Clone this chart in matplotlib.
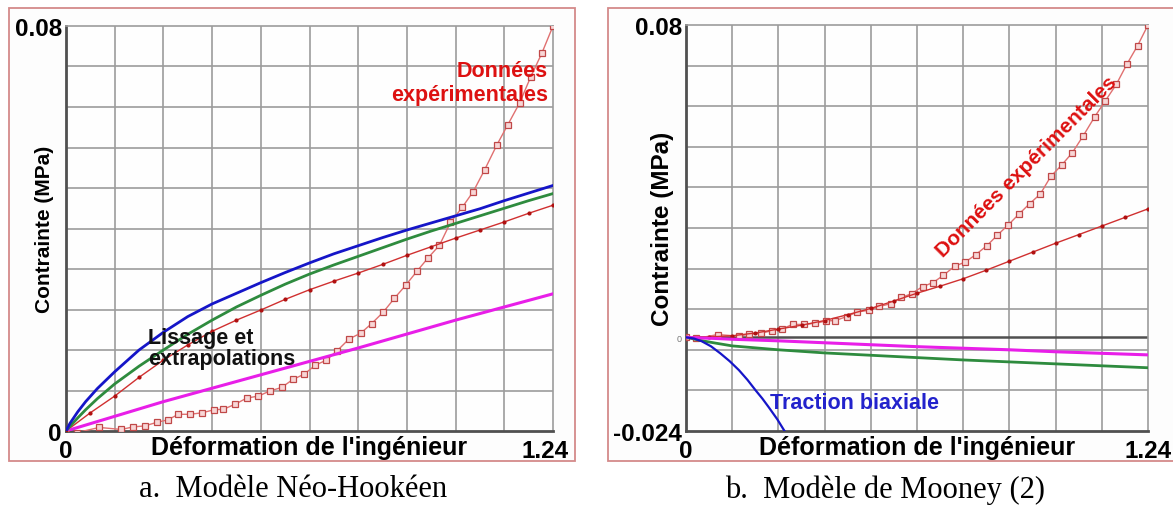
import numpy as np
import matplotlib
matplotlib.use("Agg")
import matplotlib.pyplot as plt
import matplotlib.transforms as mtransforms
from matplotlib.patches import Rectangle

plt.rcParams['font.family'] = ['Liberation Sans', 'DejaVu Sans']

# Experimental data (same test for both panels)
exp_strain = [0, 0.028, 0.085, 0.141, 0.170, 0.200, 0.231, 0.259, 0.286, 0.316,
              0.347, 0.377, 0.401, 0.431, 0.460, 0.490, 0.519, 0.549, 0.578, 0.606,
              0.635, 0.663, 0.691, 0.721, 0.750, 0.778, 0.808, 0.836, 0.865, 0.894,
              0.922, 0.951, 0.979, 1.009, 1.037, 1.066, 1.097, 1.125, 1.155, 1.183,
              1.212, 1.240]
exp_stress = [0, -0.0003, 0.0007, 0.0003, 0.0008, 0.0010, 0.0017, 0.0022, 0.0033, 0.0033,
              0.0036, 0.0042, 0.0043, 0.0053, 0.0065, 0.0069, 0.0079, 0.0086, 0.0102, 0.0112,
              0.0130, 0.0140, 0.0159, 0.0182, 0.0193, 0.0212, 0.0235, 0.0262, 0.0288, 0.0316,
              0.0342, 0.0367, 0.0412, 0.0442, 0.0473, 0.0516, 0.0565, 0.0605, 0.0648, 0.0699,
              0.0747, 0.0800]

# Fitted curves, panel a (Neo-Hookean)
fit_strain_a = [0, 0.01, 0.03, 0.05, 0.08, 0.124, 0.186, 0.248, 0.31, 0.372, 0.434, 0.496,
                0.558, 0.62, 0.682, 0.744, 0.806, 0.868, 0.93, 0.992, 1.054, 1.116, 1.178, 1.24]
blue_a = [0, 0.0015, 0.0038, 0.0058, 0.0084, 0.0117, 0.0160, 0.0195, 0.0226, 0.0251, 0.0272, 0.0293,
          0.0313, 0.0332, 0.0350, 0.0366, 0.0382, 0.0397, 0.0411, 0.0425, 0.0439, 0.0455, 0.0470, 0.0485]
green_a = [0, 0.0009, 0.0026, 0.0042, 0.0064, 0.0093, 0.0128, 0.0160, 0.0191, 0.0219, 0.0245, 0.0268,
           0.0290, 0.0310, 0.0328, 0.0345, 0.0362, 0.0379, 0.0395, 0.0410, 0.0425, 0.0440, 0.0455, 0.0469]
magenta_strain_a = [0, 0.248, 0.496, 0.744, 0.992, 1.24]
magenta_a = [0, 0.0058, 0.0111, 0.0164, 0.0219, 0.0271]

red_strain = [0, 0.062, 0.124, 0.186, 0.248, 0.31, 0.372, 0.434, 0.496, 0.558, 0.62,
              0.682, 0.744, 0.806, 0.868, 0.93, 0.992, 1.054, 1.116, 1.178, 1.24]
red_a = [0, 0.0036, 0.0069, 0.0106, 0.0140, 0.0170, 0.0197, 0.0219, 0.0239, 0.0260, 0.0279,
         0.0296, 0.0312, 0.0329, 0.0347, 0.0364, 0.0381, 0.0397, 0.0413, 0.0430, 0.0446]

# Fitted curves, panel b (Mooney 2)
red_b = [0, 0.0001, 0.0004, 0.0011, 0.0021, 0.0031, 0.0043, 0.0058, 0.0074, 0.0093, 0.0113,
         0.0131, 0.0150, 0.0172, 0.0195, 0.0218, 0.0241, 0.0263, 0.0285, 0.0307, 0.0329]
fit_strain_b = [0, 0.02, 0.05, 0.08, 0.124, 0.248, 0.372, 0.496, 0.62, 0.744, 0.868, 0.992, 1.116, 1.24]
green_b = [0, -0.0004, -0.0010, -0.0015, -0.0022, -0.0032, -0.0040, -0.0046, -0.0052, -0.0058, -0.0063, -0.0068, -0.0073, -0.0078]
magenta_b = [0, -0.0001, -0.0002, -0.0003, -0.0005, -0.0009, -0.0014, -0.0019, -0.0024, -0.0028, -0.0032, -0.0037, -0.0041, -0.0045]
blue_b_strain = [0, 0.021, 0.042, 0.067, 0.092, 0.117, 0.142, 0.165, 0.187, 0.205, 0.222, 0.245, 0.267, 0.28]
blue_b = [0, -0.0003, -0.0010, -0.0023, -0.0041, -0.0061, -0.0084, -0.0109, -0.0136, -0.0157, -0.0179, -0.0210, -0.0244, -0.0265]

W, H = 1173, 506
fig = plt.figure(figsize=(W / 100, H / 100), dpi=100)

# light frames around each panel
for x0, x1 in [(9, 575), (608, 1185)]:
    fig.patches.append(Rectangle((x0 / W, 1 - 462 / H), (x1 - x0) / W, 453 / H,
                                 transform=fig.transFigure, fc='#fdfdfd',
                                 ec='#d48a8a', lw=1.3, zorder=-5))

grid_c = '#9c9c9c'
axis_c = '#505050'


def setup(ax, ymin, ymax, yticks, ylabels, ysize, ylab_x):
    ax.set_facecolor('#fefefe')
    ax.set_xlim(0, 1.24)
    ax.set_ylim(ymin, ymax)
    ax.set_xticks(np.linspace(0, 1.24, 11), minor=True)
    ax.set_yticks(np.linspace(ymin, ymax, 11), minor=True)
    ax.grid(which='minor', color=grid_c, lw=1.2)
    ax.set_axisbelow(True)
    ax.tick_params(which='both', length=0)
    ax.set_xticks([0, 1.24])
    ax.set_xticklabels(['0', '1.24'], fontsize=17.5, fontweight='bold')
    ax.set_yticks(yticks)
    ax.set_yticklabels(ylabels, fontsize=17.5, fontweight='bold')
    ax.tick_params(axis='x', pad=6)
    ax.tick_params(axis='y', pad=3)
    for s in ['top', 'right']:
        ax.spines[s].set_color(grid_c)
        ax.spines[s].set_linewidth(1.2)
    for s in ['left', 'bottom']:
        ax.spines[s].set_color(axis_c)
        ax.spines[s].set_linewidth(2)
    ax.text(0.5, -0.04, "Déformation de l'ingénieur", transform=ax.transAxes,
            ha='center', va='center', fontsize=18, fontweight='bold')
    ax.set_ylabel('Contrainte (MPa)', fontsize=ysize, fontweight='bold')
    ax.yaxis.set_label_coords(ylab_x, 0.5)


# Panel a
ax1 = fig.add_axes([66 / W, 1 - 432 / H, 487 / W, 405 / H])
setup(ax1, 0, 0.08, [0, 0.08], ['0', '0.08'], 15, -0.025)
# "1.24" sits a little left of the axis end in panel a
lab = ax1.get_xticklabels()[1]
lab.set_transform(lab.get_transform() +
                  mtransforms.ScaledTranslation(-0.08, 0, fig.dpi_scale_trans))
ax1.plot(exp_strain, exp_stress, color='#e07070', lw=1, marker='s', ms=5,
         mfc='#f8d6d6', mec='#c04848', mew=0.9, zorder=3)
ax1.plot(red_strain, red_a, color='#d03030', lw=1, marker='o', ms=2,
         mfc='#b01010', mec='#b01010', zorder=4)
ax1.plot(magenta_strain_a, magenta_a, color='#e81ee8', lw=2.2, zorder=4)
ax1.plot(fit_strain_a, green_a, color='#2e8b3e', lw=2, zorder=4)
ax1.plot(fit_strain_a, blue_a, color='#1515c8', lw=2, zorder=4)
ax1.text(0.99, 0.86, 'Données\nexpérimentales', transform=ax1.transAxes,
         ha='right', va='center', multialignment='right', fontsize=15.5,
         fontweight='bold', color='#dd1111', linespacing=1.15, zorder=5)
ax1.text(0.168, 0.205, 'Lissage et\nextrapolations', transform=ax1.transAxes,
         ha='left', va='center', fontsize=15.5, fontweight='bold',
         color='#111111', linespacing=1.0, zorder=5)

# Panel b
ax2 = fig.add_axes([686 / W, 1 - 432 / H, 462 / W, 406 / H])
setup(ax2, -0.024, 0.08, [-0.024, 0, 0.08], ['-0.024', '0', '0.08'], 17.5, -0.026)
ax2.get_yticklabels()[1].set_fontsize(6.5)
ax2.get_yticklabels()[1].set_fontweight('normal')
ax2.get_yticklabels()[1].set_color('#777777')
ax2.axhline(0, color=axis_c, lw=1.8, zorder=1)
ax2.plot(exp_strain, exp_stress, color='#e07070', lw=1, marker='s', ms=5,
         mfc='#f8d6d6', mec='#c04848', mew=0.9, zorder=3)
ax2.plot(red_strain, red_b, color='#d03030', lw=1, marker='o', ms=2,
         mfc='#b01010', mec='#b01010', zorder=4)
ax2.plot(fit_strain_b, green_b, color='#2e8b3e', lw=2, zorder=4)
ax2.plot(fit_strain_b, magenta_b, color='#e81ee8', lw=2.2, zorder=4)
ax2.plot(blue_b_strain, blue_b, color='#1515c8', lw=1.6, zorder=4)
ax2.text(0.738, 0.653, 'Données expérimentales', transform=ax2.transAxes,
         ha='center', va='center', rotation=45, rotation_mode='anchor',
         fontsize=15, fontweight='bold', color='#dd1111', zorder=5)
ax2.text(0.182, 0.071, 'Traction biaxiale', transform=ax2.transAxes,
         ha='left', va='center', fontsize=15.5, fontweight='bold',
         color='#2222cc', zorder=5)

# Captions
fig.text(293 / W, 1 - 490 / H, 'a.  Modèle Néo-Hookéen', ha='center', va='center',
         fontsize=22, family='Liberation Serif')
fig.text(885 / W, 1 - 490 / H, 'b.  Modèle de Mooney (2)', ha='center', va='center',
         fontsize=22, family='Liberation Serif')

fig.savefig('out.png', dpi=100)
